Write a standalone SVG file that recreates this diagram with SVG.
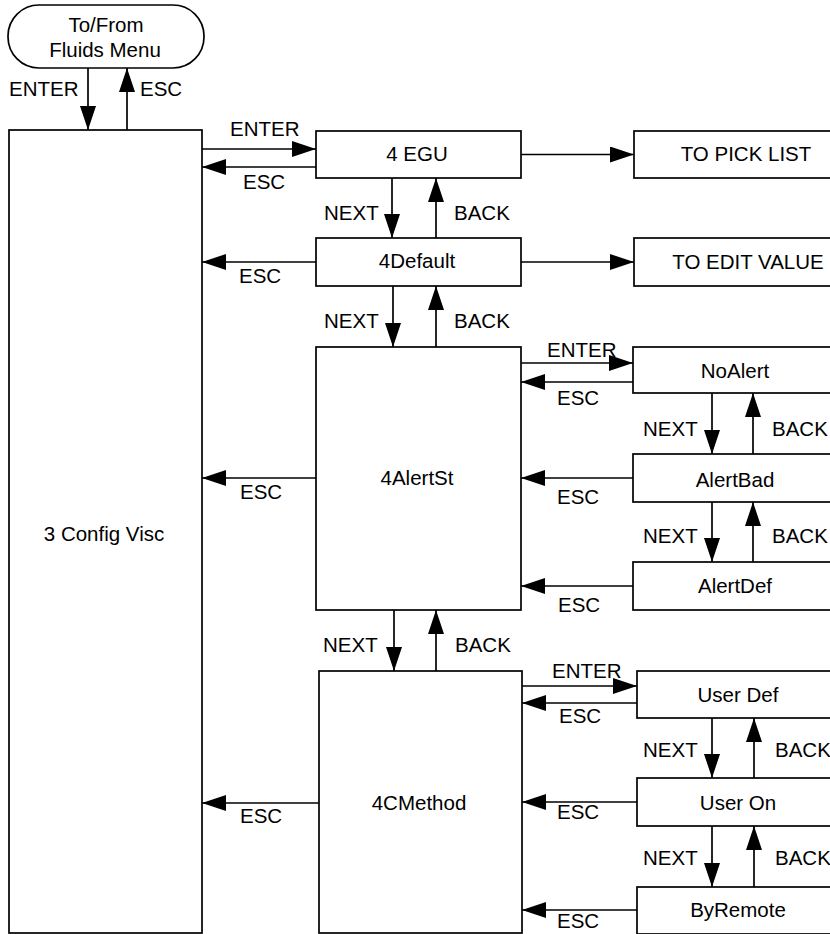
<svg xmlns="http://www.w3.org/2000/svg" width="830" height="934" viewBox="0 0 830 934">
<defs>
<marker id="ah" markerUnits="userSpaceOnUse" markerWidth="24" markerHeight="16" refX="24" refY="8" orient="auto" viewBox="0 0 24 16">
<path d="M0,0 L24,8 L0,16 z" fill="#000"/>
</marker>
<style>
.box{fill:#fff;stroke:#000;stroke-width:1.7}
.t{font-family:"Liberation Sans",Arial,sans-serif;font-size:20.5px;fill:#000}
.m{text-anchor:middle}
.c line{stroke:#000;stroke-width:1.7;marker-end:url(#ah)}
</style>
</defs>
<rect width="830" height="934" fill="#fff"/>
<g id="fluids">
<rect class="box" x="8" y="5" width="196" height="63" rx="31" ry="31"/>
<text class="t m" x="106" y="32">To/From</text>
<text class="t m" x="105" y="57">Fluids Menu</text>
</g>
<g id="configvisc">
<rect class="box" x="9" y="130" width="193" height="803"/>
<text class="t m" x="104" y="541">3 Config Visc</text>
</g>
<g id="egu">
<rect class="box" x="316" y="131" width="205" height="47"/>
<text class="t m" x="417" y="161">4 EGU</text>
</g>
<g id="picklist">
<rect class="box" x="634" y="131" width="224" height="47"/>
<text class="t m" x="746" y="161">TO PICK LIST</text>
</g>
<g id="default">
<rect class="box" x="316" y="238" width="205" height="48"/>
<text class="t m" x="417" y="268">4Default</text>
</g>
<g id="editvalue">
<rect class="box" x="634" y="238" width="224" height="48"/>
<text class="t m" x="748" y="269">TO EDIT VALUE</text>
</g>
<g id="alertst">
<rect class="box" x="316" y="347" width="205" height="263"/>
<text class="t m" x="417" y="485">4AlertSt</text>
</g>
<g id="noalert">
<rect class="box" x="633" y="347" width="204" height="46"/>
<text class="t m" x="735" y="378">NoAlert</text>
</g>
<g id="alertbad">
<rect class="box" x="633" y="454" width="204" height="48"/>
<text class="t m" x="735" y="487">AlertBad</text>
</g>
<g id="alertdef">
<rect class="box" x="633" y="562" width="204" height="48"/>
<text class="t m" x="735" y="593">AlertDef</text>
</g>
<g id="cmethod">
<rect class="box" x="319" y="671" width="203" height="262"/>
<text class="t m" x="419" y="810">4CMethod</text>
</g>
<g id="userdef">
<rect class="box" x="637" y="671" width="204" height="47"/>
<text class="t m" x="738" y="702">User Def</text>
</g>
<g id="useron">
<rect class="box" x="637" y="778" width="204" height="48"/>
<text class="t m" x="738" y="810">User On</text>
</g>
<g id="byremote">
<rect class="box" x="637" y="887" width="204" height="47"/>
<text class="t m" x="738" y="917">ByRemote</text>
</g>
<g id="connectors" class="c">
<line x1="88" y1="68" x2="88" y2="130"/>
<line x1="127" y1="130" x2="127" y2="68"/>
<line x1="202" y1="149" x2="316" y2="149"/>
<line x1="316" y1="167" x2="202" y2="167"/>
<line x1="521" y1="154.5" x2="634" y2="154.5"/>
<line x1="392" y1="178" x2="392" y2="238"/>
<line x1="436" y1="238" x2="436" y2="178"/>
<line x1="316" y1="262" x2="202" y2="262"/>
<line x1="521" y1="262" x2="634" y2="262"/>
<line x1="393" y1="286" x2="393" y2="347"/>
<line x1="436" y1="347" x2="436" y2="286"/>
<line x1="316" y1="478" x2="202" y2="478"/>
<line x1="521" y1="363" x2="633" y2="363"/>
<line x1="633" y1="382" x2="521" y2="382"/>
<line x1="712" y1="393" x2="712" y2="454"/>
<line x1="753" y1="454" x2="753" y2="393"/>
<line x1="633" y1="478" x2="521" y2="478"/>
<line x1="712" y1="502" x2="712" y2="562"/>
<line x1="753" y1="562" x2="753" y2="502"/>
<line x1="633" y1="586" x2="521" y2="586"/>
<line x1="394" y1="610" x2="394" y2="671"/>
<line x1="436" y1="671" x2="436" y2="610"/>
<line x1="319" y1="803" x2="202" y2="803"/>
<line x1="522" y1="686" x2="637" y2="686"/>
<line x1="637" y1="703" x2="522" y2="703"/>
<line x1="712" y1="718" x2="712" y2="778"/>
<line x1="754" y1="778" x2="754" y2="718"/>
<line x1="637" y1="802" x2="522" y2="802"/>
<line x1="712" y1="826" x2="712" y2="887"/>
<line x1="754" y1="887" x2="754" y2="826"/>
<line x1="637" y1="910" x2="522" y2="910"/>
</g>
<g id="labels" class="t">
<text x="9" y="96">ENTER</text>
<text x="140" y="96">ESC</text>
<text x="230" y="136">ENTER</text>
<text x="243" y="189">ESC</text>
<text x="324" y="220">NEXT</text>
<text x="454" y="220">BACK</text>
<text x="239" y="283">ESC</text>
<text x="324" y="328">NEXT</text>
<text x="454" y="328">BACK</text>
<text x="240" y="499">ESC</text>
<text x="323" y="652">NEXT</text>
<text x="455" y="652">BACK</text>
<text x="240" y="823">ESC</text>
<text x="547" y="357">ENTER</text>
<text x="557" y="405">ESC</text>
<text x="643" y="436">NEXT</text>
<text x="772" y="436">BACK</text>
<text x="557" y="504">ESC</text>
<text x="643" y="543">NEXT</text>
<text x="772" y="543">BACK</text>
<text x="558" y="612">ESC</text>
<text x="552" y="678">ENTER</text>
<text x="559" y="723">ESC</text>
<text x="643" y="757">NEXT</text>
<text x="775" y="757">BACK</text>
<text x="557" y="819">ESC</text>
<text x="643" y="865">NEXT</text>
<text x="775" y="865">BACK</text>
<text x="557" y="928">ESC</text>
</g>
</svg>
